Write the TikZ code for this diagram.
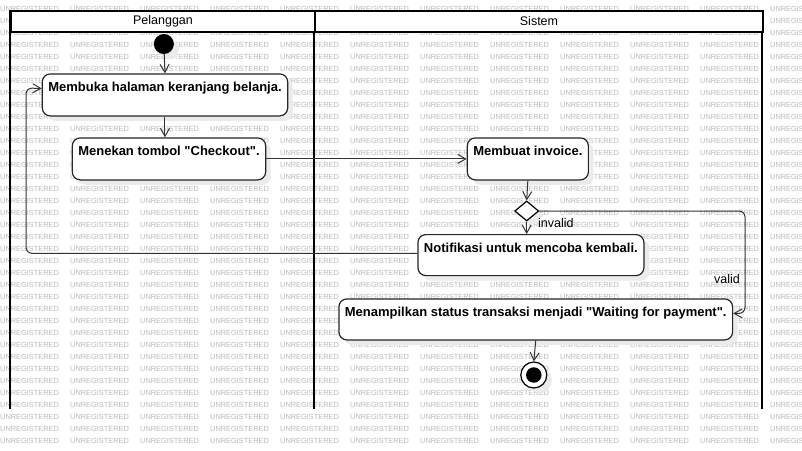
\documentclass[tikz,border=0pt]{standalone}
\usepackage{fontspec}
\setmainfont{Liberation Sans}
\usetikzlibrary{arrows.meta,shapes.geometric,shadows,calc}
\begin{document}
\begin{tikzpicture}[x=1pt,y=-1pt,
  wm/.style={font=\fontsize{7.4}{8}\selectfont, text=black!27, inner sep=0pt, anchor=west},
  lanehead/.style={draw=black, line width=2pt, fill=white, font=\fontsize{12.5}{14}\selectfont, inner sep=0pt, anchor=north west, minimum height=21pt},
  laneline/.style={draw=black, line width=2pt},
  shad/.style={drop shadow={shadow xshift=5pt, shadow yshift=-5pt, fill=black!8, opacity=1}},
  act/.style={draw=black!85, line width=1.2pt, fill=white, rounded corners=8pt, anchor=north west,
    font=\fontsize{13}{15}\bfseries\selectfont, inner xsep=6pt, inner ysep=4pt, text height=14pt, text depth=20pt, shad},
  act41/.style={act, text depth=19pt},
  lbl/.style={font=\fontsize{12.5}{14}\selectfont, inner sep=0pt},
  flow/.style={draw=black!80, line width=1pt, -{Straight Barb[length=8pt,width=9pt]}}
]
\useasboundingbox (0,0) rectangle (802,450);
\fill[white] (0,0) rectangle (802,450);
% watermark
\begin{scope}
\clip (0,0) rectangle (802,450);
\foreach \i in {0,...,11}{
  \foreach \j in {0,...,36}{
    \node[wm] (w\i-\j) at ({70*\i},{8.7+12*\j}) {UNREGISTERED};
  }
}
\end{scope}
% swimlanes
\draw[laneline] (10,10) -- (10,409);
\draw[laneline] (314,10) -- (314,409);
\draw[laneline] (762,10) -- (762,409);
\node[lanehead, minimum width=304pt] (h1) at (10,10) {Pelanggan};
\node[lanehead, minimum width=448pt] (h2) at (314,10) {Sistem};

% nodes
\node[circle, fill=black, minimum size=20pt, inner sep=0pt, shad] (start) at (163.85,44) {};
\node[act, minimum width=244.3pt, minimum height=42pt] (b1) at (41.7,73.3) {Membuka halaman keranjang belanja.};
\node[act, minimum width=191.6pt, minimum height=42pt] (b2) at (71.7,137.3) {Menekan tombol \textquotedbl Checkout\textquotedbl.};
\node[act, minimum width=120pt, minimum height=42pt] (b3) at (466.7,137.3) {Membuat invoice.};
\node[diamond, draw=black, line width=1.2pt, fill=white, minimum width=24pt, minimum height=20pt, inner sep=0pt, shad] (dec) at (526.7,211) {};
\node[act41, minimum width=226pt, minimum height=41pt] (b4) at (417.3,234) {Notifikasi untuk mencoba kembali.};
\node[act41, minimum width=391pt, minimum height=41pt] (b5) at (338.3,298.3) {Menampilkan status transaksi menjadi \textquotedbl Waiting for payment\textquotedbl.};
\node[circle, draw=black, line width=1.2pt, fill=white, minimum size=26pt, inner sep=0pt, shad] (end) at (533.8,375) {};
\node[circle, fill=black, minimum size=15.5pt, inner sep=0pt] (endin) at (end.center) {};

% labels
\node[lbl, anchor=west] (linv) at (538,223.3) {invalid};
\node[lbl] (lval) at (727,279) {valid};

% connectors
\coordinate (lc) at (26,88);
\coordinate (rc) at (745,211);
\draw[flow] (start) -- (b1.north);
\draw[flow] (b1.south) -- (b1.south |- b2.north);
\draw[flow] (b2.east) -- (b3.west);
\draw[flow] (b3.south) -- (dec.north);
\draw[flow] (dec.south) -- (dec.south |- b4.north);
\draw[flow, rounded corners=6pt] ([yshift=1.8pt]b4.west) -| (lc) -- ([yshift=6.4pt]b1.west);
\draw[flow, rounded corners=6pt] (dec.east) -- (rc) |- ([yshift=6pt]b5.east);
\draw[flow] (b5.south) -- (end.north);
\end{tikzpicture}
\end{document}
